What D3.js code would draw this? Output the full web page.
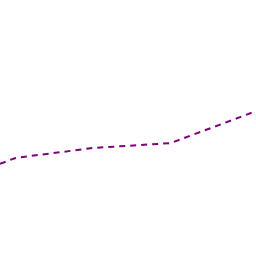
<!DOCTYPE html>
<html>
<head>
<meta charset="utf-8">
<script src="https://cdn.jsdelivr.net/npm/d3@7"></script>
<style>
  html, body { margin: 0; padding: 0; background: #fff; }
</style>
</head>
<body>
<svg id="chart"></svg>
<script>
// data
const xValues = [0, 1, 6, 11, 16.5];
const yValues = [36, 38.3, 42.2, 44.1, 56.6];

const width = 256, height = 256;

const svg = d3.select('#chart')
  .attr('width', width)
  .attr('height', height);

const xScale = d3.scaleLinear()
  .domain([0, 16.5])
  .range([0, width]);

const yScale = d3.scaleLinear()
  .domain([0, 100])
  .range([height, 0]);

const data = xValues.map((x, i) => ({ x: x, y: yValues[i] }));

const line = d3.line()
  .x(d => xScale(d.x))
  .y(d => yScale(d.y));

svg.append('path')
  .datum(data)
  .attr('d', line)
  .attr('fill', 'none')
  .attr('stroke', '#800080')
  .attr('stroke-width', 2)
  .attr('stroke-dasharray', '6,5');
</script>
</body>
</html>
